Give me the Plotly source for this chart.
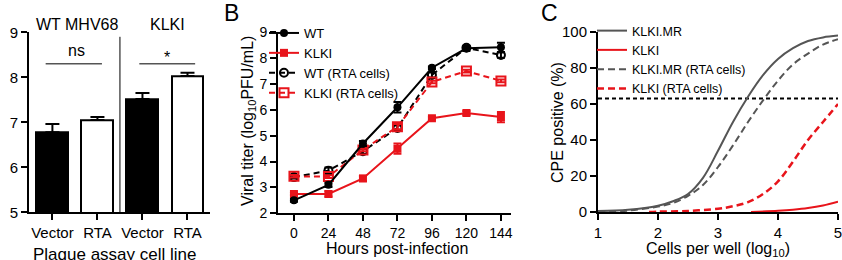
import plotly.graph_objects as go

W, H = 842, 260
FONT = "Liberation Sans, Arial, Helvetica, sans-serif"
RED = "#e8141b"
GRAY = "#555555"

# ---------- Panel A data ----------
a_cats = ["Vector", "RTA", "Vector", "RTA"]
a_vals = [6.78, 7.05, 7.52, 8.03]
a_err = [0.18, 0.07, 0.13, 0.07]
a_fill = ["black", "white", "black", "white"]
a_groups = ["WT MHV68", "KLKI"]
a_sig = ["ns", "*"]

# ---------- Panel B data ----------
b_hours = [0, 24, 48, 72, 96, 120, 144]
b_wt = [2.5, 3.1, 4.7, 6.1, 7.63, 8.38, 8.42]
b_wt_err = [0.05, 0.08, 0.1, 0.2, 0.05, 0.1, 0.18]
b_klki = [2.75, 2.75, 3.35, 4.5, 5.68, 5.88, 5.72]
b_klki_err = [0.05, 0.1, 0.1, 0.2, 0.05, 0.08, 0.2]
b_wt_rta = [3.4, 3.65, 4.4, 5.3, 7.35, 8.4, 8.12]
b_wt_rta_err = [0.05, 0.12, 0.1, 0.1, 0.1, 0.05, 0.1]
b_klki_rta = [3.43, 3.42, 4.45, 5.35, 7.08, 7.5, 7.12]
b_klki_rta_err = [0.05, 0.05, 0.05, 0.1, 0.05, 0.05, 0.05]

# ---------- Panel C data ----------
c_mr_x = [1, 1.5, 2, 2.25, 2.5, 2.75, 3, 3.25, 3.5, 3.75, 4, 4.25, 4.5, 4.75, 5]
c_mr_y = [0.5, 1.2, 3.5, 6, 10, 19, 34, 50, 64, 76, 85, 91, 95, 97, 98]
c_klki_x = [3.55, 4, 4.25, 4.5, 4.75, 5]
c_klki_y = [0, 0.7, 1.3, 2.2, 3.6, 5.7]
c_mr_rta_x = [1, 1.5, 2, 2.25, 2.5, 2.75, 3, 3.25, 3.5, 3.75, 4, 4.25, 4.5, 4.75, 5]
c_mr_rta_y = [0.3, 0.8, 3, 5, 9, 15, 25, 37, 50, 62, 73, 82, 88, 93, 96]
c_klki_rta_x = [1.85, 2, 2.5, 3, 3.25, 3.5, 3.75, 4, 4.25, 4.5, 4.75, 5]
c_klki_rta_y = [0, 0.2, 0.6, 1.8, 3.2, 5.5, 10, 17, 28, 40, 50, 60]
c_threshold = 63


def fx(p):
    return p / W


def fy(p):
    return 1 - p / H


fig = go.Figure()

# Panel A bars
a_pos = list(range(len(a_cats)))
fig.add_trace(go.Bar(
    x=a_pos, y=a_vals, width=0.71,
    marker=dict(color=a_fill, line=dict(color="black", width=2)),
    error_y=dict(type="data", symmetric=False, array=a_err,
                 arrayminus=[0] * len(a_err), color="black", thickness=2, width=7),
    xaxis="x", yaxis="y", showlegend=False,
))

# Panel B lines
common_err = dict(type="data", thickness=2, width=4)
fig.add_trace(go.Scatter(
    x=b_hours, y=b_wt_rta, name="WT (RTA cells)", mode="lines+markers",
    line=dict(color="black", width=2, dash="6px,4px"),
    marker=dict(symbol="circle-open", size=8, color="black", line=dict(width=2)),
    error_y=dict(array=b_wt_rta_err, color="black", **common_err),
    xaxis="x2", yaxis="y2", legend="legend", legendrank=3,
))
fig.add_trace(go.Scatter(
    x=b_hours, y=b_klki_rta, name="KLKI (RTA cells)", mode="lines+markers",
    line=dict(color=RED, width=2, dash="6px,4px"),
    marker=dict(symbol="square-open", size=9, color=RED, line=dict(width=2)),
    error_y=dict(array=b_klki_rta_err, color=RED, **common_err),
    xaxis="x2", yaxis="y2", legend="legend", legendrank=4,
))
fig.add_trace(go.Scatter(
    x=b_hours, y=b_klki, name="KLKI", mode="lines+markers",
    line=dict(color=RED, width=2),
    marker=dict(symbol="square", size=8, color=RED),
    error_y=dict(array=b_klki_err, color=RED, **common_err),
    xaxis="x2", yaxis="y2", legend="legend", legendrank=2,
))
fig.add_trace(go.Scatter(
    x=b_hours, y=b_wt, name="WT", mode="lines+markers",
    line=dict(color="black", width=2),
    marker=dict(symbol="circle", size=8, color="black"),
    error_y=dict(array=b_wt_err, color="black", **common_err),
    xaxis="x2", yaxis="y2", legend="legend", legendrank=1,
))

# Panel C curves
fig.add_trace(go.Scatter(
    x=[1, 5], y=[c_threshold, c_threshold], mode="lines",
    line=dict(color="black", width=2, dash="4px,3px"),
    xaxis="x3", yaxis="y3", showlegend=False,
))
fig.add_trace(go.Scatter(
    x=c_mr_x, y=c_mr_y, name="KLKI.MR", mode="lines", line_shape="spline",
    line=dict(color=GRAY, width=2), xaxis="x3", yaxis="y3",
    legend="legend2", legendrank=1,
))
fig.add_trace(go.Scatter(
    x=c_klki_x, y=c_klki_y, name="KLKI", mode="lines", line_shape="spline",
    line=dict(color=RED, width=2), xaxis="x3", yaxis="y3",
    legend="legend2", legendrank=2,
))
fig.add_trace(go.Scatter(
    x=c_mr_rta_x, y=c_mr_rta_y, name="KLKI.MR (RTA cells)", mode="lines",
    line_shape="spline", line=dict(color=GRAY, width=2, dash="7px,4px"),
    xaxis="x3", yaxis="y3", legend="legend2", legendrank=3,
))
fig.add_trace(go.Scatter(
    x=c_klki_rta_x, y=c_klki_rta_y, name="KLKI (RTA cells)", mode="lines",
    line_shape="spline", line=dict(color=RED, width=2.5, dash="7px,4px"),
    xaxis="x3", yaxis="y3", legend="legend2", legendrank=4,
))


def axis(size=15, **kw):
    d = dict(showline=True, linecolor="black", linewidth=2, ticks="outside",
             ticklen=6, tickwidth=2, tickcolor="black", showgrid=False,
             zeroline=False, automargin=False, ticklabeloverflow="allow",
             tickfont=dict(family=FONT, size=size, color="black"))
    d.update(kw)
    return d


fig.update_layout(
    width=W, height=H, margin=dict(l=0, r=0, t=0, b=0, autoexpand=False),
    paper_bgcolor="white", plot_bgcolor="white",
    font=dict(family=FONT, color="black"),
    bargap=0,
    xaxis=axis(15, domain=[fx(29), fx(210)], range=[-0.52, 3.5], tickvals=a_pos,
               ticktext=a_cats, anchor="y"),
    yaxis=axis(15, domain=[fy(212.3), fy(32.3)], range=[5, 9], dtick=1, anchor="x"),
    xaxis2=axis(14, domain=[fx(278), fx(511)], range=[-11.1, 151], tickvals=b_hours,
                anchor="y2"),
    yaxis2=axis(14, domain=[fy(213.3), fy(32.3)], range=[2, 9], dtick=1, anchor="x2"),
    xaxis3=axis(15, domain=[fx(598), fx(838)], range=[1, 5], dtick=1, anchor="y3"),
    yaxis3=axis(15, domain=[fy(212), fy(32)], range=[0, 100], dtick=20, anchor="x3"),
    legend=dict(x=fx(264), y=fy(18), xanchor="left", yanchor="top",
                bgcolor="rgba(0,0,0,0)", font=dict(family=FONT, size=13),
                tracegroupgap=0, itemwidth=30),
    legend2=dict(x=fx(592), y=fy(16), xanchor="left", yanchor="top",
                 bgcolor="rgba(0,0,0,0)", font=dict(family=FONT, size=12.5),
                 tracegroupgap=0, itemwidth=30),
)


def note(text, px, py, size, angle=0, xref="paper", xval=None):
    fig.add_annotation(
        x=fx(px) if xval is None else xval, y=fy(py), xref=xref, yref="paper",
        text=text, textangle=angle, showarrow=False,
        xanchor="center", yanchor="middle", font=dict(size=size, family=FONT))


# Axis titles
note("Plaque assay cell line", 114, 254, 17)
note("Hours post-infection", 397, 248, 16)
note("Viral titer (log<sub>10</sub>PFU/mL)", 248, 121, 16, angle=-90)
note("Cells per well (log<sub>10</sub>)", 718, 249, 16)
note("CPE positive (%)", 557, 123, 16, angle=-90)

# Panel A decorations: divider, significance lines, group headers
fig.add_shape(type="line", xref="x", yref="y", x0=1.5, x1=1.5, y0=5, y1=8.9,
              line=dict(color="black", width=1))
for x0, x1 in [(-0.15, 1.1), (1.93, 3.17)]:
    fig.add_shape(type="line", xref="x", yref="y", x0=x0, x1=x1, y0=8.3, y1=8.3,
                  line=dict(color="#555555", width=1.5))
note(a_sig[0], 0, 51, 16, xref="x", xval=0.53)
note(a_sig[1], 0, 57, 16, xref="x", xval=2.55)
note(a_groups[0], 0, 25, 16, xref="x", xval=0.55)
note(a_groups[1], 0, 25, 16, xref="x", xval=2.55)

# Panel letters
note("B", 231, 13, 23)
note("C", 549, 13, 23)

fig.write_html("out.html")
